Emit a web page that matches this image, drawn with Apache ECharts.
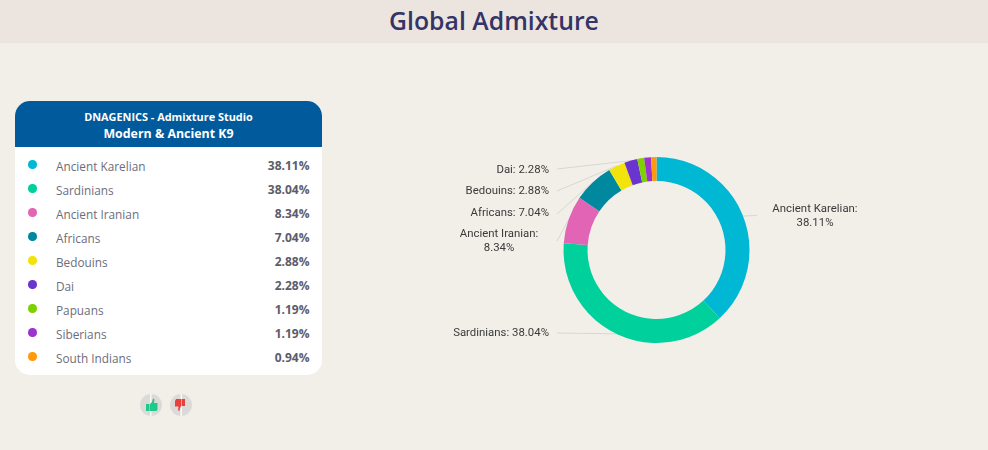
<!DOCTYPE html>
<html>
<head>
<meta charset="utf-8">
<title>Global Admixture</title>
<script src="https://cdn.jsdelivr.net/npm/echarts@6/dist/echarts.min.js"></script>
<style>
  html, body { margin: 0; padding: 0; width: 988px; height: 450px; overflow: hidden; background: #f2efe9; font-family: "Open Sans", "Noto Sans", sans-serif; }
  #band { position: absolute; left: 0; top: 0; width: 988px; height: 43px; background: #ece5df; text-align: center; color: #343466; font-size: 24.8px; font-weight: 600; line-height: 40px; }
  #card { position: absolute; left: 15px; top: 101px; width: 307px; height: 274px; background: #fff; border-radius: 15px; overflow: hidden; }
  #head { height: 46px; background: #005a9c; color: #fff; text-align: center; font-weight: 700; }
  #head .a { font-size: 10.9px; line-height: 14px; padding-top: 9px; }
  #head .b { font-size: 12.4px; line-height: 20px; font-weight: 700; }
  .row { position: absolute; left: 0; width: 307px; height: 24px; line-height: 24px; font-size: 11.8px; color: #6d6d7a; }
  .row i { position: absolute; left: 13px; top: 6px; width: 8.5px; height: 8.5px; border-radius: 50%; }
  .row span { position: absolute; left: 41px; }
  .row b { position: absolute; right: 12.5px; font-size: 12px; color: #5c5c6a; font-weight: 700; }
  .vote { position: absolute; top: 394px; width: 22px; height: 22px; }
  #chart { position: absolute; left: 0; top: 0; width: 988px; height: 450px; }
</style>
</head>
<body>
<div id="chart"></div>
<div id="band">Global Admixture</div>
<div id="card">
  <div id="head"><div class="a">DNAGENICS - Admixture Studio</div><div class="b">Modern &amp; Ancient K9</div></div>
  <div id="rows"></div>
</div>
<svg class="vote" style="left:140px" viewBox="0 0 22 22">
  <circle cx="11" cy="11" r="11" fill="#dcdad7"/><rect x="10.2" y="0" width="1.2" height="22" fill="#fff"/>
  <path d="M6 10h3v7H6zM9.500 10.500l2.500-2.500 1-3.500 1.500.8-.5 3.700h3.500v6.500l-1 1.500H9.500z" fill="#1fc98a"/>
</svg>
<svg class="vote" style="left:170px" viewBox="0 0 22 22">
  <circle cx="11" cy="11" r="11" fill="#dcdad7"/><rect x="10.600" y="0" width="1.2" height="22" fill="#fff"/>
  <path d="M15 12h-3V5h3zM11.500 11.500L10 14l-.5 3-1.500-.8.500-3.700H5V7l1-2h5.500z" fill="#e8403c"/>
</svg>
<script>
// Admixture components, largest first
const populations = ['Ancient Karelian', 'Sardinians', 'Ancient Iranian', 'Africans', 'Bedouins', 'Dai', 'Papuans', 'Siberians', 'South Indians'];
const shares = [38.11, 38.04, 8.34, 7.04, 2.88, 2.28, 1.19, 1.19, 0.94];
const colors = ['#00b8d4', '#00d09c', '#e264b4', '#00889f', '#f2e30c', '#6a35cf', '#7ed000', '#9b34cf', '#ff9a0a'];
const wrapped = ['Ancient Karelian', 'Ancient Iranian'];

// Ring geometry and where each callout sits: [text x, text y, align, leader end x]
const ringCenter = [656.5, 250];
const ringOuter = 93;
const callouts = {
  'Ancient Karelian': [815, 216, 'center', 757],
  'Sardinians': [549, 333, 'right', 557],
  'Ancient Iranian': [499, 241.5, 'center', 557],
  'Africans': [549, 213.5, 'right', 557],
  'Bedouins': [549, 191.5, 'right', 557],
  'Dai': [549, 170.5, 'right', 557]
};
const leaderY = { 'Ancient Karelian': 215.5, 'Sardinians': 333, 'Ancient Iranian': 241, 'Africans': 214, 'Bedouins': 191, 'Dai': 169 };

// Table rows beside the ring
document.getElementById('rows').innerHTML = populations.map((p, i) =>
  `<div class="row" style="top:${53 + i * 24}px"><i style="background:${colors[i]}"></i><span>${p}</span><b>${shares[i].toFixed(2)}%</b></div>`
).join('');

// Point on the ring's outer edge at the middle of a slice
function sliceEdge(index) {
  const total = shares.reduce((a, b) => a + b, 0);
  const before = shares.slice(0, index).reduce((a, b) => a + b, 0);
  const theta = (before + shares[index] / 2) / total * 2 * Math.PI;
  return [ringCenter[0] + ringOuter * Math.sin(theta), ringCenter[1] - ringOuter * Math.cos(theta)];
}

const chart = echarts.init(document.getElementById('chart'));
chart.setOption({
  animation: false,
  color: colors,
  series: [{
    type: 'pie',
    center: ringCenter,
    radius: [69, ringOuter],
    startAngle: 90,
    avoidLabelOverlap: false,
    minShowLabelAngle: 0,
    label: {
      color: '#3a3a3a',
      fontFamily: 'Roboto, "Noto Sans", sans-serif',
      fontSize: 11.4,
      lineHeight: 14,
      formatter: p => callouts[p.name]
        ? p.name + ':' + (wrapped.includes(p.name) ? '\n' : ' ') + p.value.toFixed(2) + '%'
        : ''
    },
    labelLine: { show: true, length: 10, length2: 10, lineStyle: { color: '#d9d6d0', width: 1 } },
    labelLayout: params => {
      const name = populations[params.dataIndex];
      const spot = callouts[name];
      if (!spot) return {};
      const edge = sliceEdge(params.dataIndex);
      const tip = [spot[3], leaderY[name]];
      return {
        x: spot[0], y: spot[1], align: spot[2], verticalAlign: 'middle',
        labelLinePoints: [edge, [(edge[0] + tip[0]) / 2, (edge[1] + tip[1]) / 2], tip]
      };
    },
    data: populations.map((name, i) => ({
      name, value: shares[i],
      labelLine: { show: !!callouts[name] }
    }))
  }]
});
</script>
</body>
</html>
